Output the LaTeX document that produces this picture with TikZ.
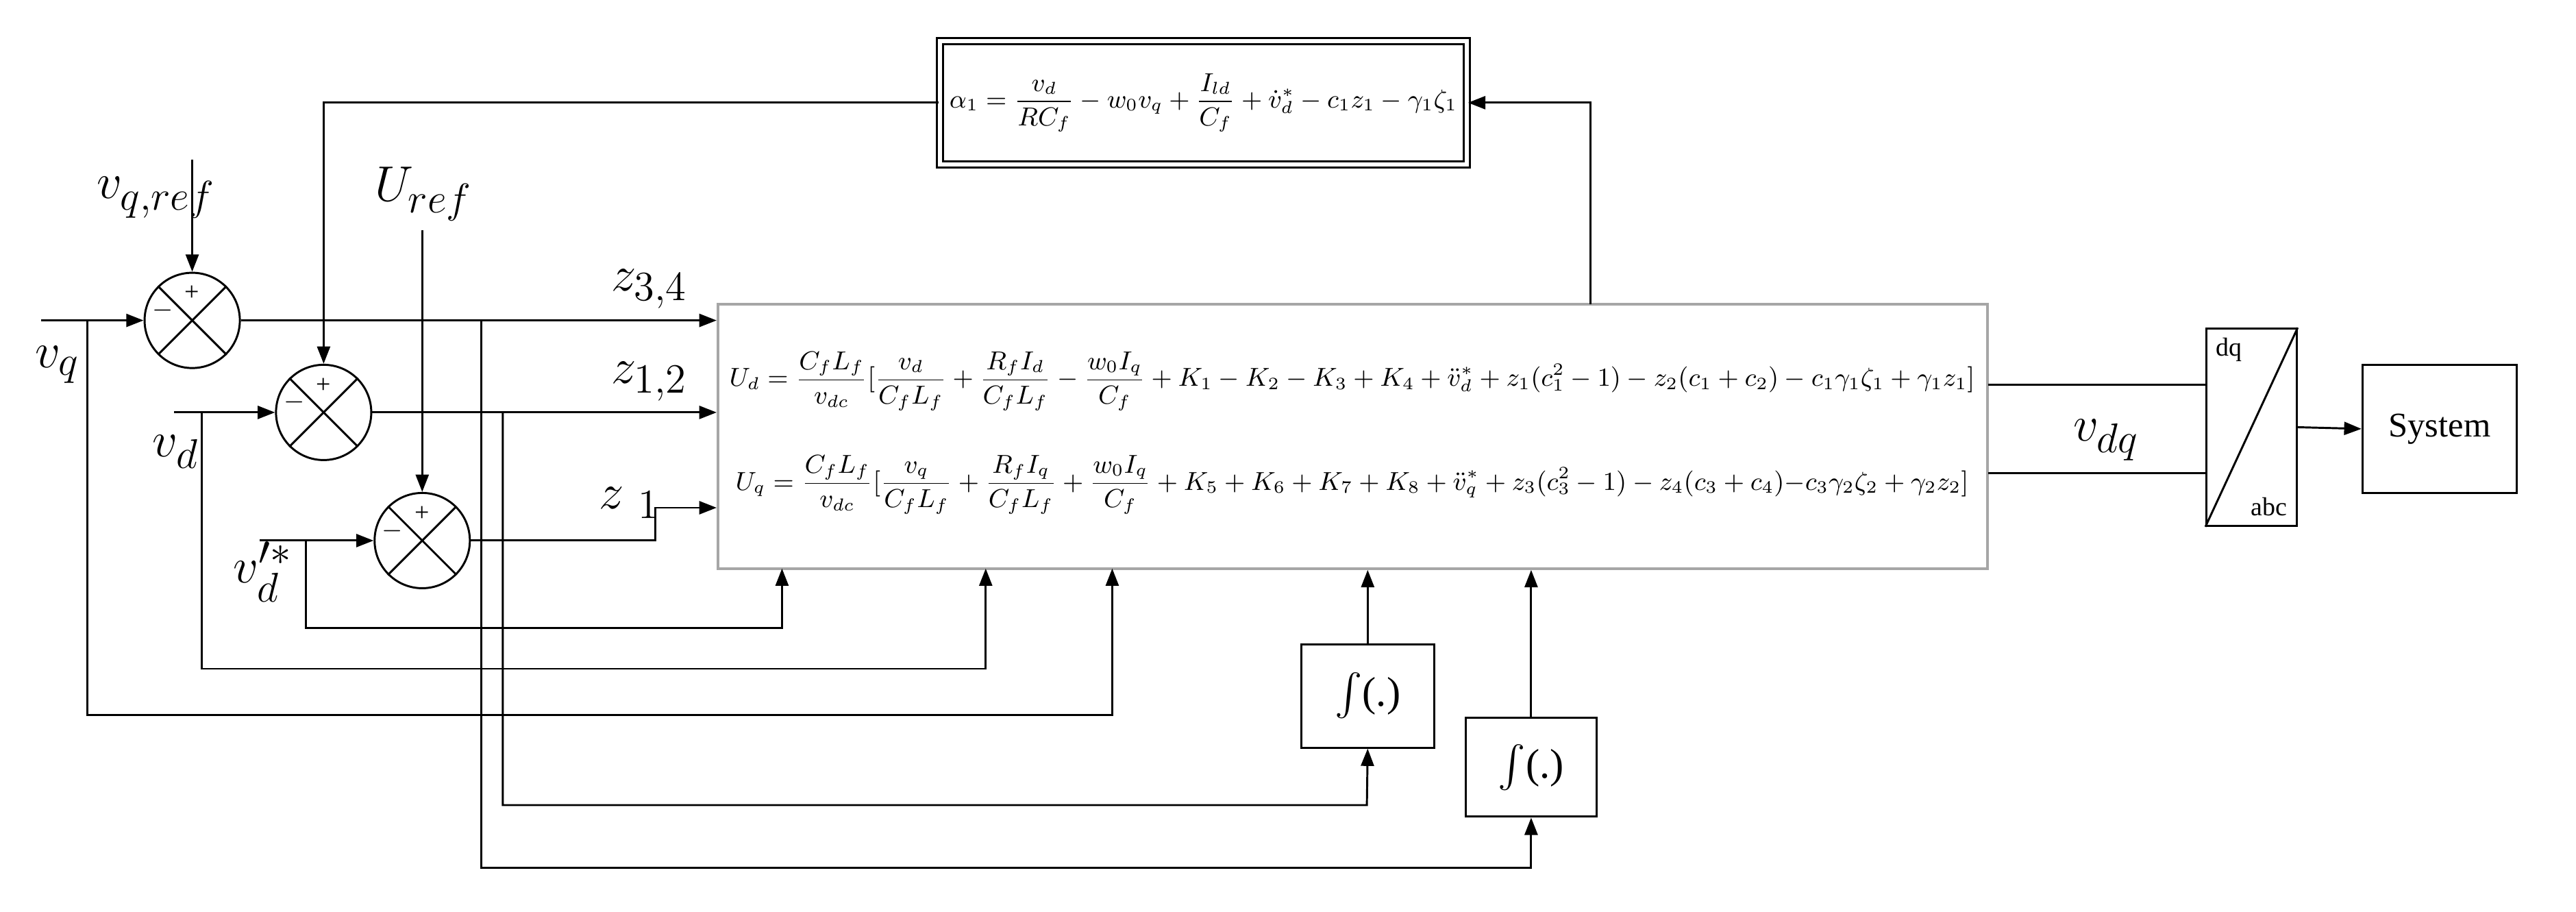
\documentclass[tikz,border=0pt]{standalone}
\usepackage{amsmath}
\usepackage{fontspec}
\setmainfont{Liberation Serif}
\usetikzlibrary{arrows.meta}
\begin{document}
\begin{tikzpicture}[x=0.02cm,y=-0.02cm,>={Triangle[length=6pt,width=4.5pt]},line width=0.7pt,
  sum/.style={draw,circle,minimum size=1.16cm,inner sep=0pt},
  blk/.style={draw,rectangle,inner sep=0pt},
  lbl/.style={font=\fontsize{19}{21}\selectfont}]

% Bounding box
\useasboundingbox (0,0) rectangle (1568,555);

% Summing junctions
\node[sum] (S1) at (117,195) {};
\node[sum] (S2) at (197,251) {};
\node[sum] (S3) at (257,329) {};
\foreach \s in {S1,S2,S3}{
  \draw (\s.135) -- (\s.-45);
  \draw (\s.45) -- (\s.-135);
  \node[font=\small] at ([yshift=0.33cm]\s.center) {+};
  \node[font=\small] at ([xshift=-0.36cm,yshift=0.12cm]\s.center) {$-$};
}

% Blocks
\node[blk,minimum width=15.46cm,minimum height=3.22cm,draw=gray!70,line width=1pt] (B) at (823.5,265.5) {};
\node[font=\fontsize{9}{11}\selectfont] (Ud) at (823,232)
  {$U_d=\dfrac{C_fL_f}{v_{dc}}[\dfrac{v_d}{C_fL_f}+\dfrac{R_fI_d}{C_fL_f}-\dfrac{w_0I_q}{C_f}+K_1-K_2-K_3+K_4+\ddot v_d^*+z_1(c_1^2-1)-z_2(c_1+c_2)-c_1\gamma_1\zeta_1+\gamma_1z_1]$};
\node[font=\fontsize{9}{11}\selectfont] (Uq) at (823,295)
  {$U_q=\dfrac{C_fL_f}{v_{dc}}[\dfrac{v_q}{C_fL_f}+\dfrac{R_fI_q}{C_fL_f}+\dfrac{w_0I_q}{C_f}+K_5+K_6+K_7+K_8+\ddot v_q^*+z_3(c_3^2-1)-z_4(c_3+c_4){-}c_3\gamma_2\zeta_2+\gamma_2z_2]$};
\node[blk,minimum width=6.42cm,minimum height=1.5cm,double,double distance=1.5pt] (A) at (732.5,62.5)
  {\fontsize{9}{11}\selectfont$\alpha_1=\dfrac{v_d}{RC_f}-w_0v_q+\dfrac{I_{ld}}{C_f}+\dot v_d^*-c_1z_1-\gamma_1\zeta_1$};
\node[blk,minimum width=1.62cm,minimum height=1.26cm,font=\Large] (I1) at (832.5,423.5) {$\int$(.)};
\node[blk,minimum width=1.6cm,minimum height=1.2cm,font=\Large] (I2) at (932,467) {$\int$(.)};
\node[blk,minimum width=1.1cm,minimum height=2.4cm] (T) at (1370.5,260) {};
\draw (T.south west) -- (T.north east);
\node[font=\small,anchor=north west] at (T.north west) {dq};
\node[font=\small,anchor=south east] at (T.south east) {abc};
\node[blk,minimum width=1.88cm,minimum height=1.56cm,font=\large] (Sys) at (1485,261) {System};

% Junction coordinates
\coordinate (jq) at (53,195);
\coordinate (jd) at (123,251);
\coordinate (js) at (186,329);
\coordinate (j34) at (293,195);
\coordinate (j12) at (306,251);

% Inputs
\draw[->] (25,195) -- (S1.west);
\draw[->] (106,251) -- (S2.west);
\draw[->] (158,329) -- (S3.west);
\draw[->] (117,97) -- (S1.north);
\draw[->] (257,140) -- (S3.north);
\draw[->] (A.west) -| (S2.north);

% Errors to controller
\draw[->] (S1.east) -- (B.west |- S1.east);
\draw[->] (S2.east) -- (B.west |- S2.east);
\draw[->] (S3.east) -- (399,329) -- (399,309) -- (B.west |- 0,309);

% Feedback lines from below
\draw[->] (js) |- (476,382) -- (476,346);
\draw[->] (jd) |- (600,407) -- (600,346);
\draw[->] (jq) |- (677,435) -- (677,346);
\draw[->] (j12) |- (832,490) -- (I1.south);
\draw[->] (j34) |- (932,528) -- (I2.south);
\draw[->] (I1.north) -- (I1.north |- B.south);
\draw[->] (I2.north) -- (I2.north |- B.south);

% Outputs
\draw[->] (968,185) |- (A.east);
\draw (1210,234) -- (T.west |- 0,234);
\draw (1210,288) -- (T.west |- 0,288);
\draw[->] (T.east) -- (Sys.west);

% Labels
\node[lbl] at (35,222) {$v_q$};
\node[lbl] at (95,120) {$v_{q,ref}$};
\node[lbl] at (258,118) {$U_{ref}$};
\node[lbl] at (107,275) {$v_d$};
\node[lbl] at (160,348) {$v_d^{\prime *}$};
\node[lbl,anchor=east] at (425,176) {$z_{3,4}$};
\node[lbl,anchor=east] at (425,232) {$z_{1,2}$};
\node[lbl,anchor=east] at (408,306) {$z\;_1$};
\node[lbl] at (1282,268) {$v_{dq}$};
\end{tikzpicture}
\end{document}
